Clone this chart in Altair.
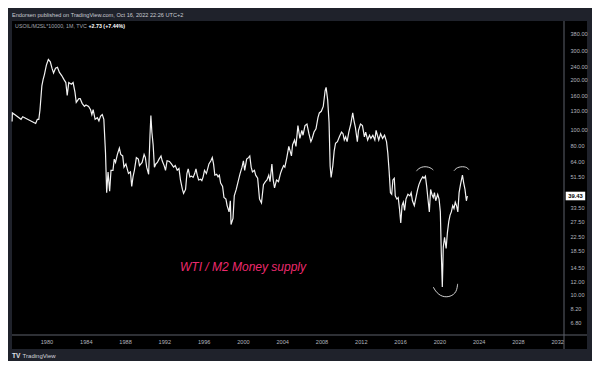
import altair as alt
import pandas as pd

# ---- data ----
years = [1976.50, 1976.53, 1976.76, 1977.41, 1977.58, 1978.90, 1979.07, 1979.22, 1979.34, 1979.53,
         1979.66, 1979.79, 1979.99, 1980.19, 1980.39, 1980.56, 1980.72, 1980.92, 1981.12, 1981.32,
         1981.55, 1981.77, 1981.97, 1982.11, 1982.27, 1982.54, 1982.71, 1982.90, 1983.03, 1983.30,
         1983.43, 1983.63, 1983.86, 1984.02, 1984.29, 1984.49, 1984.62, 1984.75, 1984.95, 1985.18,
         1985.34, 1985.51, 1985.68, 1985.84, 1986.01, 1986.13, 1986.27, 1986.43, 1986.57, 1986.77,
         1986.90, 1987.03, 1987.22, 1987.42, 1987.56, 1987.76, 1987.89, 1988.09, 1988.22, 1988.35,
         1988.55, 1988.68, 1988.81, 1988.95, 1989.15, 1989.35, 1989.47, 1989.74, 1989.94, 1990.07,
         1990.20, 1990.40, 1990.54, 1990.63, 1990.73, 1990.86, 1990.99, 1991.13, 1991.29, 1991.46,
         1991.66, 1991.78, 1991.98, 1992.12, 1992.28, 1992.52, 1992.72, 1992.94, 1993.11, 1993.31,
         1993.49, 1993.64, 1993.84, 1993.96, 1994.16, 1994.30, 1994.43, 1994.60, 1994.76, 1994.93,
         1995.09, 1995.22, 1995.35, 1995.49, 1995.69, 1995.82, 1995.95, 1996.09, 1996.28, 1996.41,
         1996.54, 1996.74, 1996.88, 1997.01, 1997.14, 1997.33, 1997.47, 1997.60, 1997.73, 1997.93,
         1998.07, 1998.27, 1998.39, 1998.59, 1998.72, 1998.79, 1998.99, 1999.12, 1999.32, 1999.51,
         1999.71, 1999.91, 2000.05, 2000.18, 2000.38, 2000.57, 2000.70, 2000.84, 2000.97, 2001.17,
         2001.30, 2001.50, 2001.69, 2001.89, 2002.09, 2002.29, 2002.45, 2002.63, 2002.76, 2002.95,
         2003.08, 2003.22, 2003.42, 2003.62, 2003.82, 2003.94, 2004.14, 2004.27, 2004.47, 2004.67,
         2004.81, 2004.94, 2005.06, 2005.26, 2005.40, 2005.60, 2005.80, 2006.00, 2006.12, 2006.32,
         2006.52, 2006.72, 2006.92, 2007.05, 2007.24, 2007.44, 2007.64, 2007.78, 2007.98, 2008.18,
         2008.37, 2008.47, 2008.63, 2008.77, 2008.88, 2008.98, 2009.15, 2009.29, 2009.43, 2009.62,
         2009.82, 2010.04, 2010.19, 2010.32, 2010.46, 2010.61, 2010.78, 2010.98, 2011.18, 2011.31,
         2011.45, 2011.65, 2011.77, 2011.97, 2012.17, 2012.37, 2012.50, 2012.70, 2012.89, 2013.03,
         2013.23, 2013.43, 2013.56, 2013.69, 2013.83, 2014.02, 2014.22, 2014.42, 2014.62, 2014.75,
         2014.88, 2015.02, 2015.15, 2015.27, 2015.41, 2015.51, 2015.67, 2015.81, 2015.94, 2016.07,
         2016.20, 2016.33, 2016.46, 2016.60, 2016.80, 2017.00, 2017.13, 2017.26, 2017.45, 2017.65,
         2017.79, 2017.92, 2018.11, 2018.31, 2018.44, 2018.58, 2018.71, 2018.84, 2018.98, 2019.11,
         2019.24, 2019.38, 2019.50, 2019.63, 2019.83, 2019.97, 2020.10, 2020.20, 2020.30, 2020.40,
         2020.53, 2020.69, 2020.82, 2020.96, 2021.09, 2021.22, 2021.36, 2021.49, 2021.62, 2021.75,
         2021.88, 2022.01, 2022.15, 2022.35, 2022.48, 2022.61, 2022.75, 2022.85]

ratio = [111.4, 125.4, 122.6, 114.7, 118.9, 108.3, 114.7, 114.7, 131.1, 182.9,
         200.0, 213.8, 244.3, 264.0, 255.3, 233.8, 218.7, 233.8, 236.9, 220.5,
         211.0, 200.0, 191.4, 160.1, 191.4, 187.1, 191.4, 167.5, 145.3, 153.2,
         153.2, 143.3, 137.2, 140.1, 137.2, 131.1, 122.6, 131.1, 114.7, 117.4,
         112.3, 120.0, 122.6, 114.7, 71.9, 41.3, 55.1, 42.2, 56.4, 56.4,
         65.9, 62.9, 70.4, 76.9, 70.4, 68.9, 58.9, 61.6, 57.6, 53.9,
         55.1, 45.1, 51.5, 56.4, 67.3, 65.9, 60.2, 62.9, 70.4, 67.3,
         58.9, 53.4, 91.9, 121.0, 96.1, 80.5, 58.9, 61.6, 62.9, 65.9,
         68.9, 64.4, 60.2, 56.4, 64.4, 63.8, 61.6, 58.9, 60.2, 56.4,
         57.8, 49.3, 43.2, 40.9, 43.2, 53.9, 57.6, 51.5, 52.0, 51.1,
         53.9, 57.6, 52.7, 49.3, 49.8, 48.9, 51.5, 56.4, 53.9, 57.6,
         61.6, 64.4, 67.3, 61.6, 52.7, 53.4, 51.5, 52.7, 47.2, 45.1,
         38.6, 37.8, 34.5, 31.6, 36.9, 26.5, 28.9, 39.5, 43.2, 48.2,
         53.9, 58.9, 64.4, 56.4, 65.9, 67.3, 68.9, 58.9, 55.1, 56.4,
         52.7, 50.5, 37.8, 35.8, 46.2, 48.2, 49.3, 52.7, 48.2, 61.6,
         49.3, 44.2, 49.3, 48.2, 53.9, 56.4, 60.2, 58.9, 67.3, 78.7,
         73.6, 68.9, 80.5, 86.0, 78.7, 105.1, 87.9, 98.3, 91.9, 105.1,
         107.3, 93.9, 84.1, 87.9, 96.1, 100.4, 117.4, 125.4, 128.3, 137.2,
         171.1, 179.1, 149.8, 109.8, 60.0, 51.0, 60.0, 73.6, 82.2, 84.1,
         89.9, 96.1, 93.9, 86.0, 89.9, 84.1, 96.1, 107.3, 125.4, 112.3,
         102.7, 84.1, 98.3, 107.3, 105.1, 89.9, 96.1, 86.0, 91.9, 87.9,
         91.9, 86.0, 98.3, 91.9, 86.0, 93.9, 87.9, 91.9, 84.1, 71.9,
         56.4, 41.3, 40.4, 49.3, 50.5, 39.5, 37.8, 38.6, 33.1, 27.1,
         34.5, 36.2, 32.3, 37.8, 40.4, 39.5, 41.3, 36.9, 34.5, 39.5,
         43.2, 46.2, 49.3, 51.5, 50.5, 52.0, 45.1, 37.8, 31.6, 43.2,
         40.4, 38.6, 41.3, 36.9, 40.4, 37.8, 31.6, 17.7, 11.1, 19.4,
         22.2, 19.0, 23.7, 27.7, 30.2, 31.6, 34.5, 33.1, 36.2, 34.5,
         31.6, 41.3, 46.2, 52.7, 47.2, 43.2, 36.9, 39.43]

# hand-drawn "smiley" annotation strokes
arc_group = ["eye1"] * 7 + ["eye2"] * 7 + ["mouth"] * 10
arc_years = [2017.65, 2017.90, 2018.20, 2018.54, 2018.90, 2019.20, 2019.38,
             2021.49, 2021.70, 2022.00, 2022.35, 2022.70, 2022.90, 2023.01,
             2019.38, 2019.60, 2019.95, 2020.30, 2020.69, 2021.10, 2021.45, 2021.70, 2021.82, 2021.86]
arc_values = [55.8, 57.8, 59.0, 59.4, 59.0, 57.9, 56.6,
              56.0, 58.0, 59.0, 59.4, 59.0, 58.0, 56.8,
              11.1, 10.5, 10.0, 9.75, 9.66, 9.75, 10.0, 10.4, 11.0, 11.6]

y_ticks = [460, 380, 300, 240, 200, 160, 130, 100, 80, 64, 51.5, 33.5, 27.5,
           22.5, 18.5, 14.5, 12, 10, 8.2, 6.8]
x_ticks = [1980, 1984, 1988, 1992, 1996, 2000, 2004, 2008, 2012, 2016, 2020, 2024, 2028, 2032]
last_value = [39.43]

header_text = "Endorsen published on TradingView.com, Oct 16, 2022 22:26 UTC+2"
symbol_text = "USOIL/M2SL*10000, 1M, TVC"
change_text = "+2.73 (+7.44%)"
note_text = "WTI / M2 Money supply"

# ---- layout ----
W, H = 552, 314
FRAME = "#1f222b"
LABEL = "#b2b5be"
SEP = "#5d606b"

line_df = pd.DataFrame({"year": years, "ratio": ratio})
arc_df = pd.DataFrame({"year": arc_years, "ratio": arc_values, "g": arc_group,
                       "i": list(range(len(arc_years)))})
last_df = pd.DataFrame({"ratio": last_value, "label": ["39.43"]})
one = pd.DataFrame({"a": [0]})

xscale = alt.Scale(domain=[1976.49, 2032.69], nice=False, zero=False)
yscale = alt.Scale(type="log", domain=[5.69, 451.1], nice=False)

bg = alt.Chart(one).mark_rect(color="black").encode(
    x=alt.value(0), x2=alt.value(W + 23), y=alt.value(0), y2=alt.value(H + 14))

vsep = alt.Chart(one).mark_rule(color=SEP, strokeWidth=1).encode(
    x=alt.value(W), y=alt.value(0), y2=alt.value(H + 14))
hsep = alt.Chart(one).mark_rule(color=SEP, strokeWidth=1).encode(
    y=alt.value(H), x=alt.value(0), x2=alt.value(W + 23))

line = alt.Chart(line_df).mark_line(color="#f2f2f2", strokeWidth=1.2).encode(
    x=alt.X("year:Q", scale=xscale, title=None,
            axis=alt.Axis(values=x_ticks, format="d", labelPadding=4, labelFlush=False,
                          labelOverlap=False, zindex=2)),
    y=alt.Y("ratio:Q", scale=yscale, title=None,
            axis=alt.Axis(orient="right", values=y_ticks, format=".2f", labelPadding=6,
                          labelOverlap=False, labelAlign="left", zindex=2)),
)

arcs = alt.Chart(arc_df).mark_line(color="#e8e8e8", strokeWidth=0.9, interpolate="basis").encode(
    x=alt.X("year:Q", scale=xscale),
    y=alt.Y("ratio:Q", scale=yscale),
    detail="g:N",
    order="i:Q",
)

tag = alt.Chart(last_df).mark_rect(color="white", height=8.6).encode(
    x=alt.value(W + 1.7), x2=alt.value(W + 21.2),
    y=alt.Y("ratio:Q", scale=yscale),
)
tag_text = alt.Chart(last_df).mark_text(color="black", font="Liberation Sans", fontSize=5.8,
                                        fontWeight="bold").encode(
    x=alt.value(W + 11.5), y=alt.Y("ratio:Q", scale=yscale), text="label:N")

def txt(s, x, y, **kw):
    return alt.Chart(one).mark_text(text=s, align="left", baseline="middle", **kw).encode(
        x=alt.value(x), y=alt.value(y))

header = txt(header_text, 0, -6.3, color="#c8cad1", font="Liberation Sans", fontSize=5.6)
symbol = txt(symbol_text, 3.1, 5.2, color="#a3a6af", font="Liberation Sans", fontSize=5.3)
change = txt(change_text, 76.5, 5.2, color="#ffffff", font="Liberation Sans", fontSize=5.3,
             fontWeight="bold")
note = txt(note_text, 168, 246.2, color="#ec2a6e", font="Liberation Sans", fontSize=12,
           fontStyle="italic")
logo = txt("TV", 0, H + 21.2, color="#e0e3eb", font="Liberation Sans", fontSize=6.5,
           fontWeight="bold")
brand = txt("TradingView", 10.6, H + 21.2, color="#d1d4dc", font="Liberation Sans", fontSize=6)

chart = alt.layer(bg, vsep, hsep, line, arcs, tag, tag_text, header, symbol, change, note,
                  logo, brand).properties(
    width=W, height=H,
    autosize=alt.AutoSizeParams(type="none"),
    padding={"left": 4, "top": 13, "right": 28, "bottom": 26},
    background=FRAME,
).configure_view(stroke=None).configure_axis(
    domain=False, ticks=False, grid=False, labelColor=LABEL,
    labelFont="Liberation Sans", labelFontSize=5.6, zindex=2,
)

chart.save("out.html", embed_options={"renderer": "svg", "actions": False})
